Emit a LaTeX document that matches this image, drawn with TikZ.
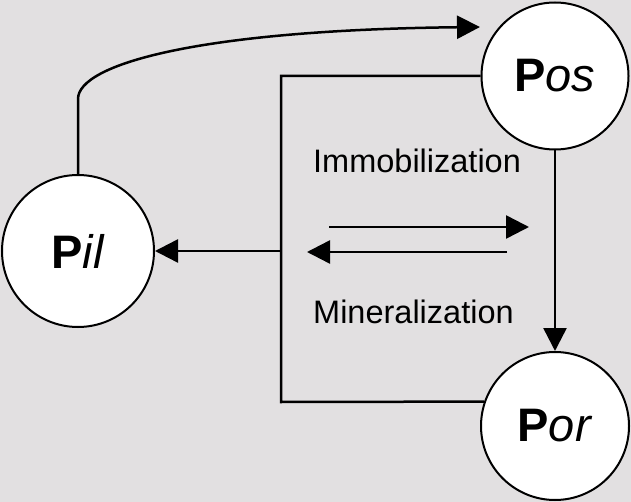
\documentclass[tikz,border=0pt]{standalone}
\usepackage{fontspec}
\setmainfont{Liberation Sans}
\usetikzlibrary{arrows.meta}
\definecolor{bg}{RGB}{226,224,225}
\tikzset{
  pool/.style={circle,draw=black,fill=white,line width=2pt,inner sep=0pt,
    font=\fontsize{47}{50}\selectfont},
  conn/.style={line width=2.5pt,draw=black},
  tip/.style={-{Triangle[length=23pt,width=23pt]}},
  lbl/.style={anchor=base west,inner sep=0pt,font=\fontsize{32.5}{36}\selectfont}
}
\begin{document}
\begin{tikzpicture}[x=1pt,y=-1pt]
\path[fill=bg,use as bounding box] (0,0) rectangle (631,502);
\node[pool,minimum size=147pt] (pos) at (555,76) {\textbf{P}\textit{os}};
\node[pool,minimum size=152pt] (pil) at (78,251) {\textbf{P}\textit{il}};
\node[pool,minimum size=148pt] (por) at (555,426) {\textbf{P}\textit{or}};
\coordinate (tl) at (281,76);
\coordinate (bl) at (281,402);
\coordinate (jn) at (281,251);
\coordinate (ctip) at (480,27);
\coordinate (ua) at (329,227);
\coordinate (ub) at (529,227);
\coordinate (la) at (507,252);
\coordinate (lb) at (307,252);
% bracket
\draw[conn] (pos.west) -- (tl) -- (bl) -- (por.161);
\draw[conn,tip] (jn) -- (pil.east);
% vertical
\draw[conn,tip] (pos.south) -- (por.north);
% curve
\draw[conn,tip,rounded corners=0pt] (pil.north) -- ++(0,-75) .. controls +(0,-35) and (200,30) .. (ctip);
% double arrows
\draw[conn,tip] (ua) -- (ub);
\draw[conn,tip] (la) -- (lb);
% labels
\node[lbl] (imm) at (313,173) {Immobilization};
\node[lbl] (min) at (313,323) {Mineralization};
\end{tikzpicture}
\end{document}
